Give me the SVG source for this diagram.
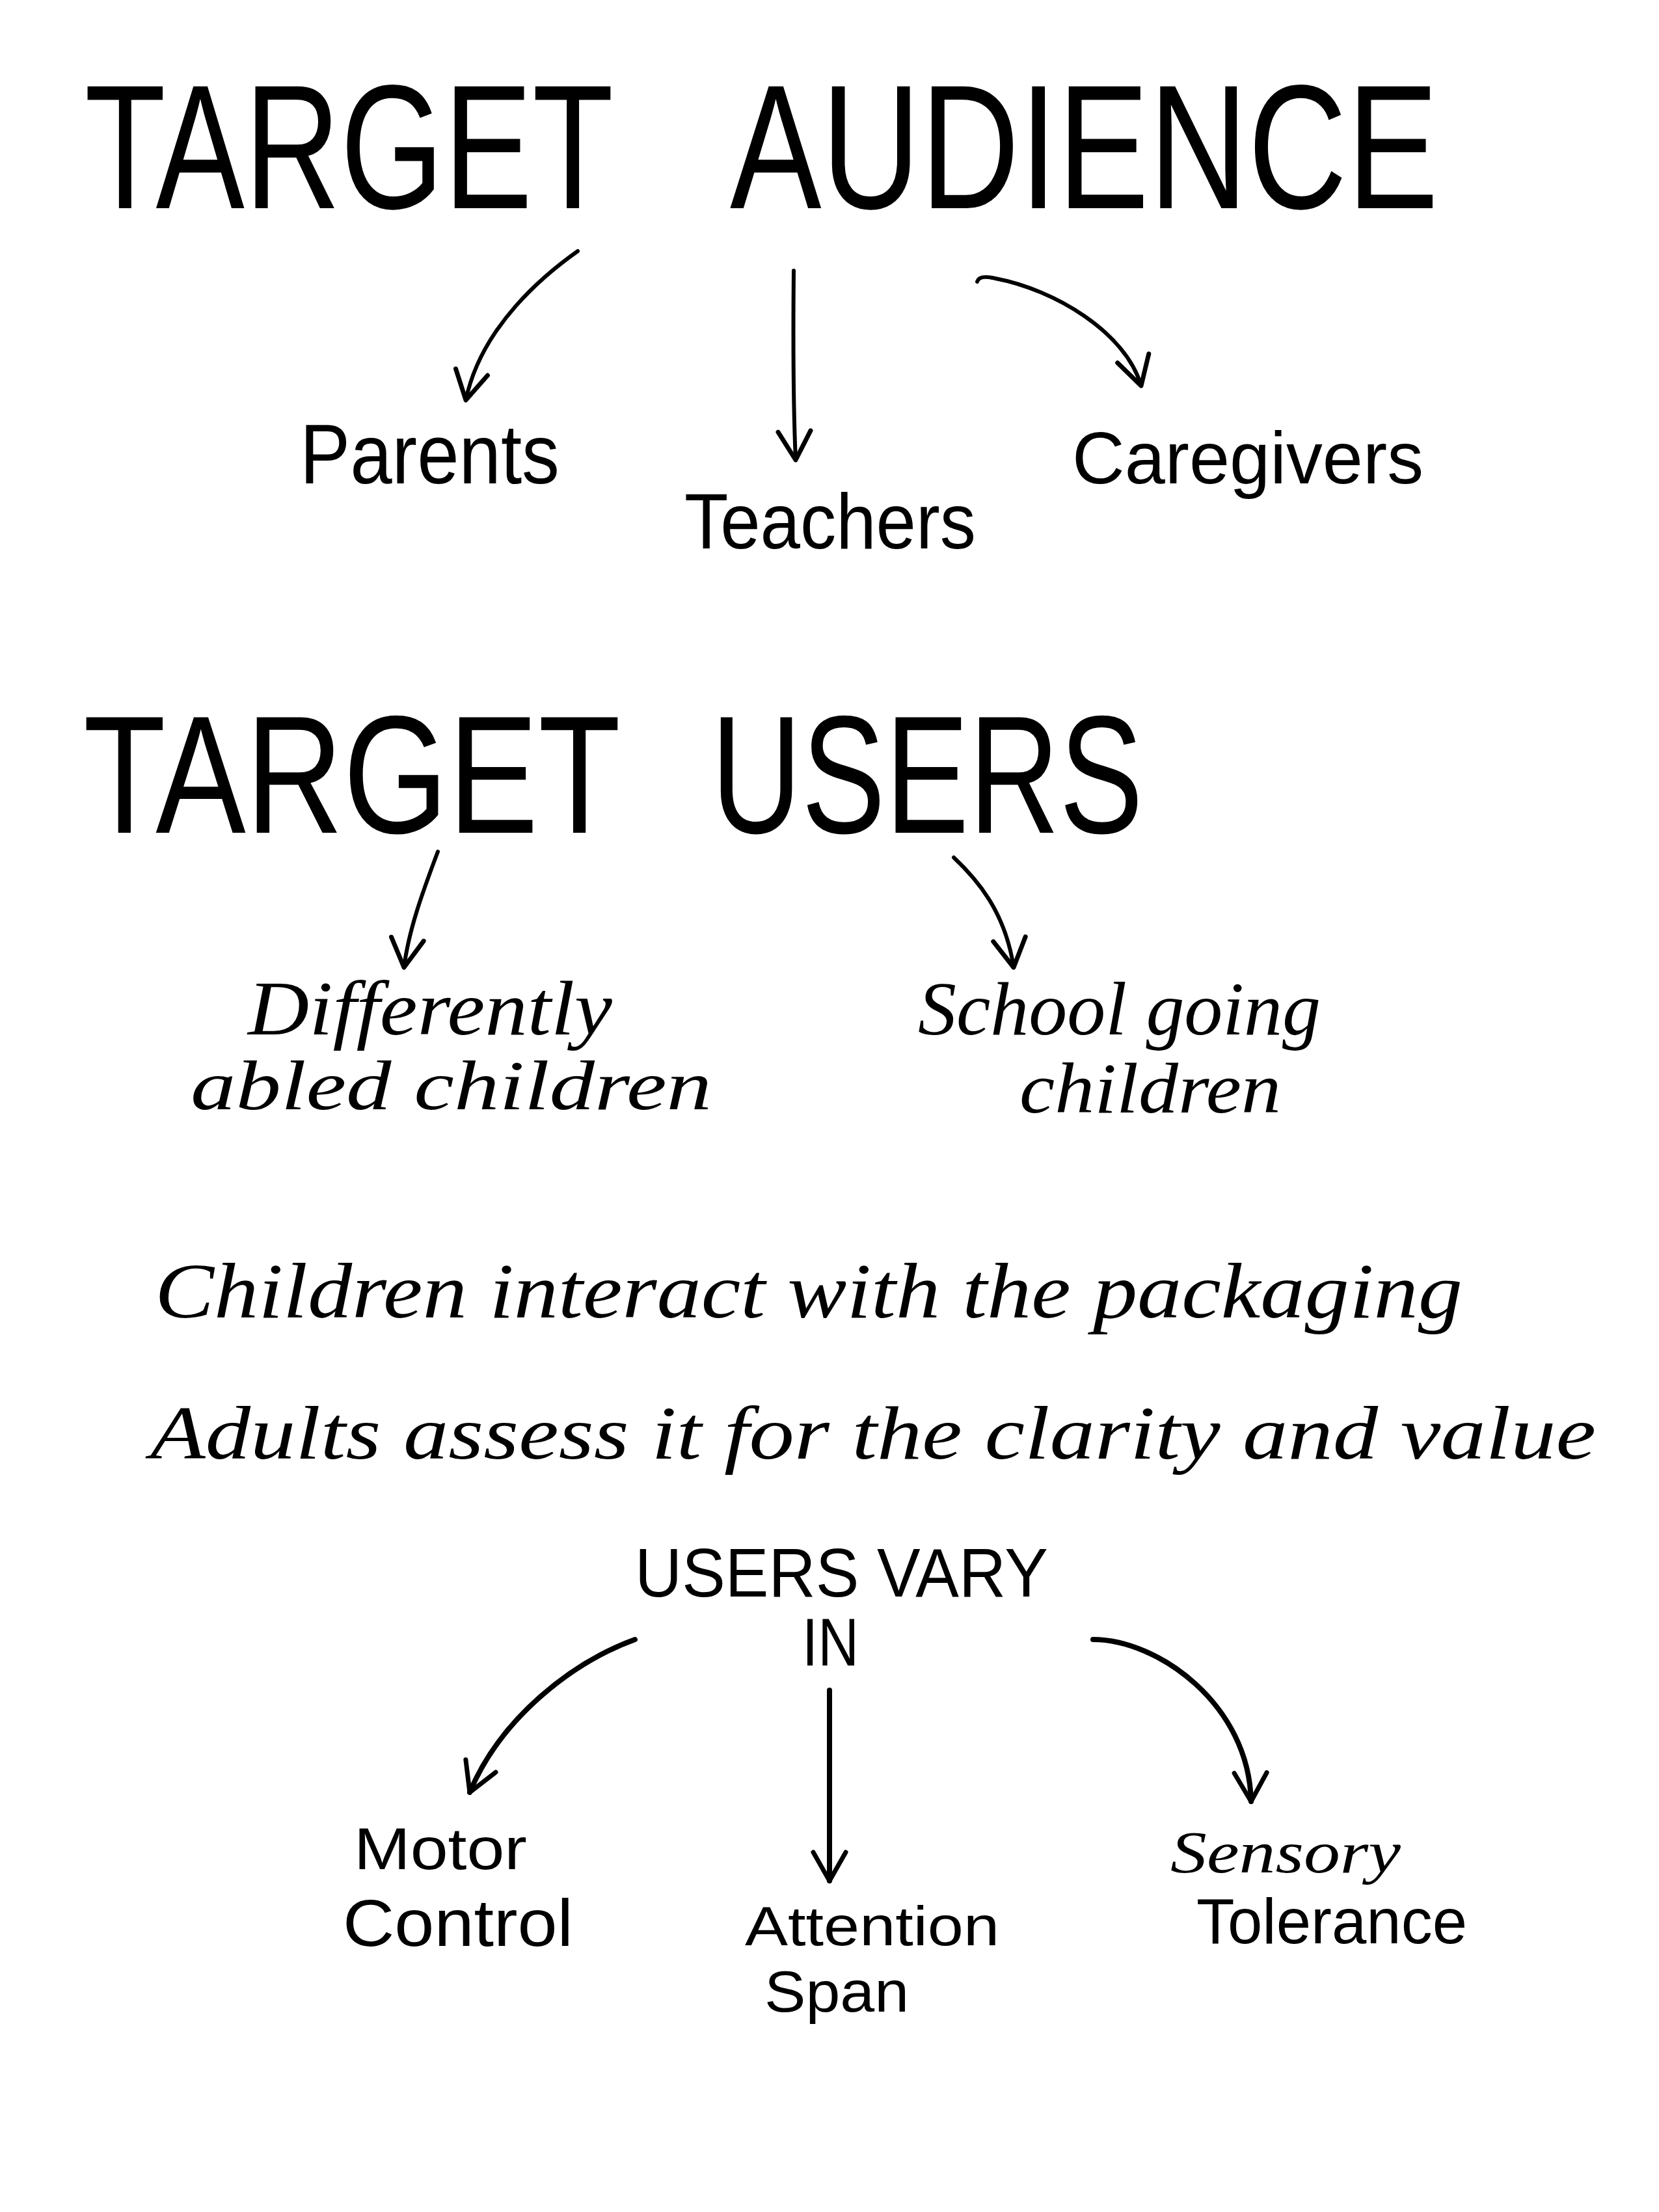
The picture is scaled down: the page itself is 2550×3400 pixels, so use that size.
<svg xmlns="http://www.w3.org/2000/svg" width="2550" height="3400" viewBox="0 0 2550 3400">
<style>
.p{font-family:"Liberation Sans",Arial,sans-serif;fill:#000}
.s{font-family:"Liberation Serif","Times New Roman",serif;font-style:italic;fill:#000}
.c{fill:none;stroke:#000;stroke-linecap:round;stroke-linejoin:round}
.c6{stroke-width:6}
.c8{stroke-width:8}
</style>
<defs>
<marker id="ah" markerUnits="userSpaceOnUse" viewBox="-70 -50 90 100" markerWidth="90" markerHeight="100" refX="0" refY="0" orient="auto">
<path d="M -44 -25 L 0 0 L -44 25" fill="none" stroke="#000" stroke-width="7" stroke-linecap="round" stroke-linejoin="round"/>
</marker>
</defs>
<rect x="0" y="0" width="2550" height="3400" fill="#fff"/>

<g id="heading-audience">
<text class="p" x="130" y="320" font-size="272" textLength="813" lengthAdjust="spacingAndGlyphs">TARGET</text>
<text class="p" x="1122" y="320" font-size="272" textLength="1089" lengthAdjust="spacingAndGlyphs">AUDIENCE</text>
</g>
<g id="node-parents"><text class="p" x="461" y="743" font-size="130" textLength="399" lengthAdjust="spacingAndGlyphs">Parents</text></g>
<g id="node-teachers"><text class="p" x="1052" y="843" font-size="120" textLength="448" lengthAdjust="spacingAndGlyphs">Teachers</text></g>
<g id="node-caregivers"><text class="p" x="1648" y="743" font-size="113" textLength="540" lengthAdjust="spacingAndGlyphs">Caregivers</text></g>

<g id="heading-users">
<text class="p" x="128" y="1280" font-size="258" textLength="826" lengthAdjust="spacingAndGlyphs">TARGET</text>
<text class="p" x="1093" y="1280" font-size="258" textLength="664" lengthAdjust="spacingAndGlyphs">USERS</text>
</g>
<g id="node-differently-abled">
<text class="s" x="381" y="1590" font-size="118" textLength="560" lengthAdjust="spacingAndGlyphs">Differently</text>
<text class="s" x="293" y="1705" font-size="108" textLength="801" lengthAdjust="spacingAndGlyphs">abled children</text>
</g>
<g id="node-school-going">
<text class="s" x="1411" y="1590" font-size="116" textLength="619" lengthAdjust="spacingAndGlyphs">School going</text>
<text class="s" x="1567" y="1710" font-size="110" textLength="402" lengthAdjust="spacingAndGlyphs">children</text>
</g>

<g id="note-children"><text class="s" x="238" y="2025" font-size="120" textLength="2010" lengthAdjust="spacingAndGlyphs">Children interact with the packaging</text></g>
<g id="note-adults"><text class="s" x="231" y="2242" font-size="116" textLength="2222" lengthAdjust="spacingAndGlyphs">Adults assess it for the clarity and value</text></g>

<g id="node-users-vary">
<text class="p" x="976" y="2454" font-size="106" textLength="635" lengthAdjust="spacingAndGlyphs">USERS VARY</text>
<text class="p" x="1233" y="2560" font-size="103" textLength="87" lengthAdjust="spacingAndGlyphs">IN</text>
</g>
<g id="node-motor">
<text class="p" x="544" y="2873" font-size="91" textLength="266" lengthAdjust="spacingAndGlyphs">Motor</text>
<text class="p" x="527" y="2991" font-size="102" textLength="354" lengthAdjust="spacingAndGlyphs">Control</text>
</g>
<g id="node-attention">
<text class="p" x="1145" y="2990" font-size="85" textLength="391" lengthAdjust="spacingAndGlyphs">Attention</text>
<text class="p" x="1175" y="3092" font-size="89" textLength="222" lengthAdjust="spacingAndGlyphs">Span</text>
</g>
<g id="node-sensory">
<text class="s" x="1799" y="2878" font-size="90" textLength="354" lengthAdjust="spacingAndGlyphs">Sensory</text>
<text class="p" x="1839" y="2987" font-size="98" textLength="416" lengthAdjust="spacingAndGlyphs">Tolerance</text>
</g>

<g id="connectors">
<path class="c c6" marker-end="url(#ah)" d="M 888 386 C 840 420, 740 500, 716 615"/>
<path class="c c6" marker-end="url(#ah)" d="M 1220 416 C 1219 520, 1219 620, 1223 707"/>
<path class="c c6" marker-end="url(#ah)" d="M 1502 433 Q 1505 422, 1530 428 C 1620 445, 1730 510, 1754 593"/>
<path class="c c6" marker-end="url(#ah)" d="M 673 1309 C 650 1370, 628 1430, 621 1487"/>
<path class="c c6" marker-end="url(#ah)" d="M 1466 1318 C 1500 1350, 1545 1400, 1558 1487"/>
<path class="c c8" marker-end="url(#ah)" d="M 976 2520 C 880 2555, 770 2640, 722 2755"/>
<path class="c c8" marker-end="url(#ah)" d="M 1275 2598 L 1275 2891"/>
<path class="c c8" marker-end="url(#ah)" d="M 1680 2520 C 1780 2520, 1920 2620, 1923 2769"/>
</g>
</svg>
